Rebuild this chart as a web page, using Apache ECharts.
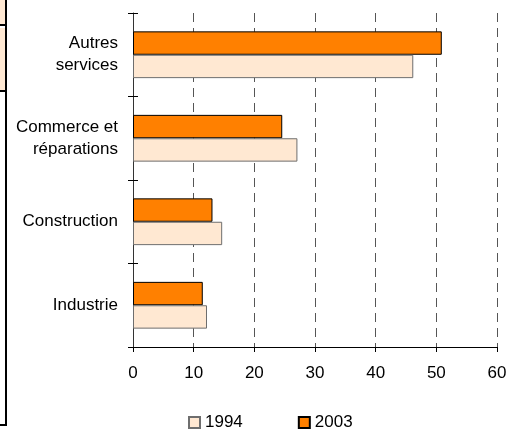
<!DOCTYPE html>
<html>
<head>
<meta charset="utf-8">
<script src="https://cdn.jsdelivr.net/npm/echarts@6/dist/echarts.min.js"></script>
<style>html,body{margin:0;padding:0;background:#fff}#c{width:521px;height:430px}</style>
</head>
<body>
<div id="c"></div>
<script>
var categories = ['Industrie', 'Construction', 'Commerce et\nréparations', 'Autres\nservices'];
var values1994 = [12.2, 14.7, 27.1, 46.2];
var values2003 = [11.5, 13.1, 24.6, 50.9];
var xTicks = [0, 10, 20, 30, 40, 50, 60];

var FONT = 'Liberation Sans, Arial, sans-serif';
var chart = echarts.init(document.getElementById('c'), null, {renderer: 'canvas'});
chart.setOption({
  animation: false,
  backgroundColor: '#fff',
  textStyle: {fontFamily: FONT},
  grid: {left: 133, top: 13, right: 24, bottom: 83, containLabel: false},
  legend: {
    data: [{name: '1994', icon: 'rect'}, {name: '2003', icon: 'rect'}],
    left: 183, top: 409,
    itemWidth: 11, itemHeight: 11, itemGap: 55,
    textStyle: {fontFamily: FONT, fontSize: 17, color: '#000'}
  },
  xAxis: {
    type: 'value', min: xTicks[0], max: xTicks[xTicks.length - 1], interval: 10,
    axisLine: {show: true, lineStyle: {color: '#000', width: 1}},
    axisTick: {show: true, length: 5, lineStyle: {color: '#000'}},
    axisLabel: {margin: 18, fontSize: 17, color: '#000', fontFamily: FONT},
    splitLine: {show: true, lineStyle: {color: '#555', type: [9, 6], width: 1}}
  },
  yAxis: [{
    type: 'category', data: categories,
    axisLine: {show: true, lineStyle: {color: '#333', width: 1}},
    axisTick: {show: true, length: 5, lineStyle: {color: '#000'}},
    axisLabel: {margin: 15, fontSize: 17, lineHeight: 22, color: '#000', fontFamily: FONT, align: 'right'},
    splitLine: {show: false}
  }, {
    type: 'category', data: categories, position: 'left',
    axisLine: {show: false},
    axisTick: {show: true, inside: true, length: 5, lineStyle: {color: '#000'}},
    axisLabel: {show: false},
    splitLine: {show: false}
  }],
  series: [{
    name: '2003', type: 'bar', data: values2003,
    barGap: '0%', barCategoryGap: '44%',
    itemStyle: {color: '#FF8000', borderColor: '#000', borderWidth: 1}
  }, {
    name: '1994', type: 'bar', data: values1994,
    barGap: '0%', barCategoryGap: '44%',
    itemStyle: {color: '#FFE8D2', borderColor: '#6e6e6e', borderWidth: 1}
  }],
  graphic: [
    {type: 'rect', shape: {x: 0, y: 0, width: 5, height: 24}, style: {fill: '#FFE8D2'}, silent: true},
    {type: 'rect', shape: {x: 0, y: 28, width: 5, height: 62}, style: {fill: '#FFE8D2'}, silent: true},
    {type: 'rect', shape: {x: 0, y: 24, width: 7, height: 2}, style: {fill: '#000'}, silent: true},
    {type: 'rect', shape: {x: 0, y: 90, width: 7, height: 2}, style: {fill: '#000'}, silent: true},
    {type: 'rect', shape: {x: 5, y: 0, width: 2, height: 426}, style: {fill: '#000'}, silent: true},
    {type: 'rect', shape: {x: 0, y: 424, width: 7, height: 2}, style: {fill: '#000'}, silent: true}
  ]
});
</script>
</body>
</html>
